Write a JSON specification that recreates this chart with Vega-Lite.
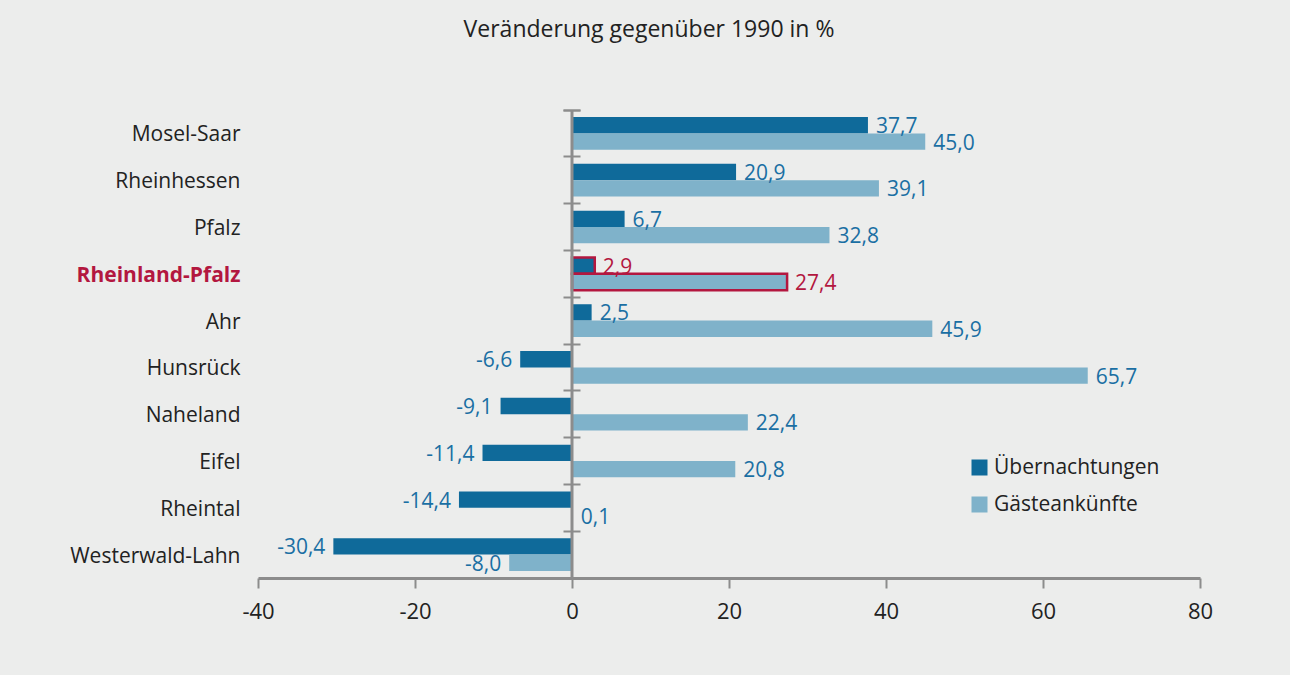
{
  "$schema": "https://vega.github.io/schema/vega-lite/v6.json",
  "width": 942,
  "height": 468,
  "autosize": {"type": "none"},
  "padding": {"left": 258, "top": 110, "right": 90, "bottom": 97},
  "background": "#ecedec",
  "title": {
    "text": "Veränderung gegenüber 1990 in %",
    "font": "Open Sans",
    "fontSize": 23,
    "fontWeight": "normal",
    "color": "#222222",
    "anchor": "middle",
    "dx": -80,
    "offset": 67
  },
  "config": {
    "view": {"stroke": null},
    "font": "Open Sans",
    "locale": {
      "number": {"decimal": ",", "thousands": ".", "grouping": [3], "currency": ["", " €"], "minus": "-"}
    }
  },
  "data": {
    "values": [
      {"region": "Mosel-Saar", "series": "Übernachtungen", "value": 37.7},
      {"region": "Mosel-Saar", "series": "Gästeankünfte", "value": 45.0},
      {"region": "Rheinhessen", "series": "Übernachtungen", "value": 20.9},
      {"region": "Rheinhessen", "series": "Gästeankünfte", "value": 39.1},
      {"region": "Pfalz", "series": "Übernachtungen", "value": 6.7},
      {"region": "Pfalz", "series": "Gästeankünfte", "value": 32.8},
      {"region": "Rheinland-Pfalz", "series": "Übernachtungen", "value": 2.9},
      {"region": "Rheinland-Pfalz", "series": "Gästeankünfte", "value": 27.4},
      {"region": "Ahr", "series": "Übernachtungen", "value": 2.5},
      {"region": "Ahr", "series": "Gästeankünfte", "value": 45.9},
      {"region": "Hunsrück", "series": "Übernachtungen", "value": -6.6},
      {"region": "Hunsrück", "series": "Gästeankünfte", "value": 65.7},
      {"region": "Naheland", "series": "Übernachtungen", "value": -9.1},
      {"region": "Naheland", "series": "Gästeankünfte", "value": 22.4},
      {"region": "Eifel", "series": "Übernachtungen", "value": -11.4},
      {"region": "Eifel", "series": "Gästeankünfte", "value": 20.8},
      {"region": "Rheintal", "series": "Übernachtungen", "value": -14.4},
      {"region": "Rheintal", "series": "Gästeankünfte", "value": 0.1},
      {"region": "Westerwald-Lahn", "series": "Übernachtungen", "value": -30.4},
      {"region": "Westerwald-Lahn", "series": "Gästeankünfte", "value": -8.0}
    ]
  },
  "resolve": {"axis": {"y": "independent"}},
  "layer": [
    {
      "mark": {"type": "bar", "strokeWidth": 2.5},
      "encoding": {
        "y": {
          "field": "region", "type": "nominal", "sort": null,
          "scale": {"paddingInner": 0, "paddingOuter": 0},
          "axis": {
            "orient": "left", "title": null, "domain": false, "ticks": false,
            "labelPadding": 18, "labelFontSize": 21, "labelFont": "Open Sans", "labelOffset": 2,
            "labelColor": {"condition": {"test": "datum.value === 'Rheinland-Pfalz'", "value": "#b3173f"}, "value": "#222222"},
            "labelFontWeight": {"condition": {"test": "datum.value === 'Rheinland-Pfalz'", "value": "bold"}, "value": "normal"}
          }
        },
        "yOffset": {
          "field": "series", "type": "nominal", "sort": ["Übernachtungen", "Gästeankünfte"],
          "scale": {"paddingInner": 0, "paddingOuter": 0.43}
        },
        "x": {
          "field": "value", "type": "quantitative",
          "scale": {"domain": [-40, 80], "nice": false, "zero": false},
          "axis": {
            "title": null, "grid": false, "values": [-40, -20, 0, 20, 40, 60, 80],
            "domainColor": "#8c8c8c", "domainWidth": 3,
            "tickColor": "#8c8c8c", "tickWidth": 2, "tickSize": 10,
            "labelFontSize": 22, "labelFont": "Open Sans", "labelColor": "#222222", "labelPadding": 13,
            "labelFlush": false, "format": "d"
          }
        },
        "color": {
          "field": "series", "type": "nominal",
          "scale": {"domain": ["Übernachtungen", "Gästeankünfte"], "range": ["#0f6a9a", "#7fb2ca"]},
          "legend": {
            "title": null, "orient": "none", "legendX": 711, "legendY": 347,
            "symbolType": "square", "symbolSize": 256, "symbolStrokeWidth": 0,
            "labelFontSize": 21, "labelFont": "Open Sans", "labelColor": "#222222",
            "labelOffset": 4, "rowPadding": 15, "labelLimit": 400
          }
        },
        "stroke": {"condition": {"test": "datum.region === 'Rheinland-Pfalz'", "value": "#b3173f"}, "value": "transparent"}
      }
    },
    {
      "data": {"values": [{"zero": 0}]},
      "mark": {"type": "rule", "color": "#8c8c8c", "strokeWidth": 3},
      "encoding": {"x": {"field": "zero", "type": "quantitative"}}
    },
    {
      "transform": [{"filter": "datum.value >= 0"}],
      "mark": {"type": "text", "align": "left", "baseline": "middle", "dx": 8, "dy": 2, "fontSize": 21, "font": "Open Sans"},
      "encoding": {
        "y": {
          "field": "region", "type": "nominal", "sort": null,
          "axis": {
            "orient": "right", "offset": -637, "title": null, "domain": false, "labels": false,
            "bandPosition": 0, "tickExtra": true, "tickSize": 17, "tickWidth": 2, "tickColor": "#8c8c8c",
            "zindex": 1
          }
        },
        "yOffset": {"field": "series", "type": "nominal", "sort": ["Übernachtungen", "Gästeankünfte"]},
        "x": {"field": "value", "type": "quantitative"},
        "text": {"field": "value", "type": "quantitative", "format": ".1f"},
        "color": {"condition": {"test": "datum.region === 'Rheinland-Pfalz'", "value": "#b3173f"}, "value": "#1a6fa3"}
      }
    },
    {
      "transform": [{"filter": "datum.value < 0"}],
      "mark": {"type": "text", "align": "right", "baseline": "middle", "dx": -8, "dy": 2, "fontSize": 21, "font": "Open Sans"},
      "encoding": {
        "y": {"field": "region", "type": "nominal", "sort": null, "axis": null},
        "yOffset": {"field": "series", "type": "nominal", "sort": ["Übernachtungen", "Gästeankünfte"]},
        "x": {"field": "value", "type": "quantitative"},
        "text": {"field": "value", "type": "quantitative", "format": ".1f"},
        "color": {"condition": {"test": "datum.region === 'Rheinland-Pfalz'", "value": "#b3173f"}, "value": "#1a6fa3"}
      }
    }
  ]
}
